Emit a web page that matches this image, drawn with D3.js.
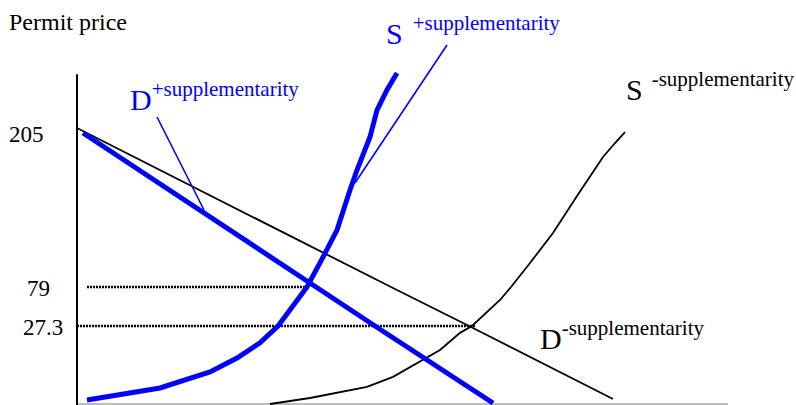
<!DOCTYPE html>
<html>
<head>
<meta charset="utf-8">
<script src="https://cdnjs.cloudflare.com/ajax/libs/d3/7.8.5/d3.min.js"></script>
<style>
	body { margin: 0; background: #fff; }
	svg { display: block; }
	text { font-family: "Liberation Serif", "Times New Roman", serif; }
</style>
</head>
<body>
<svg width="796" height="405"></svg>
<script>
// price labels shown on the axis (schematic, not evenly spaced)
var priceTicks = [205, 79, 27.3];

// curves: [quantity, price]
var demandPlus = [[6, 205], [239, 79], [298, 27.3], [416, 0.35]];
var demandMinus = [[0, 209.1], [314, 79], [392, 27.3], [536, 1.75]];
var supplyPlus = [[10, 1.4], [83, 5.6], [133, 11.2], [160, 16.1], [183, 21.4], [201, 27.3],
	[230, 79], [246, 103.5], [260, 125.6], [273, 158.4], [280, 174.7], [293, 201.7],
	[300, 223.8], [310, 240.2], [320, 254.1]];
var supplyMinus = [[193, 0], [233, 2.1], [290, 6.0], [316, 9.5], [363, 18.9], [383, 24.9],
	[395, 27.3], [423, 61.8], [434, 79], [453, 98.6], [476, 123.2], [500, 153.5],
	[526, 185.4], [538, 196.8], [548, 205.8]];

// equilibrium guides: price and how far they run
var guidePrices = [79, 27.3];
var guideFrom = [10, 0];
var guideTo = [228, 398];

// labels: [quantity, price] anchor of the big letter
var labelLetters = ['D', 'S', 'S', 'D'];
var labelSups = ['+supplementarity', '+supplementarity', '-supplementarity', '-supplementarity'];
var labelAnchors = [[53, 223.8], [309, 277.8], [549, 232], [463, 19.25]];

// leader lines from label to curve
var leaders = [
	[[80, 218.1], [127, 142]],
	[[370, 277], [278, 164.1]]
];

var svg = d3.select('svg'),
	width = +svg.attr('width'),
	height = +svg.attr('height');

var x = d3.scaleLinear()
	.domain([0, 651])
	.range([77, 728]);

// piecewise scale, the diagram is not drawn to scale
var y = d3.scaleLinear()
	.domain([0, 27.3, 79, 205])
	.range([404, 326, 287, 133]);

var line = d3.line()
	.x(function(d) { return x(d[0]); })
	.y(function(d) { return y(d[1]); });

// axes
svg.append('line')
	.attr('x1', x(0)).attr('x2', x(651))
	.attr('y1', y(0)).attr('y2', y(0))
	.attr('stroke', '#bdbdbd')
	.attr('stroke-width', 2);

svg.append('line')
	.attr('x1', x(0)).attr('x2', x(0))
	.attr('y1', y(0) + 1).attr('y2', y(253))
	.attr('stroke', '#000')
	.attr('stroke-width', 2);

svg.append('text')
	.attr('x', 9)
	.attr('y', 30)
	.attr('font-size', 24)
	.text('Permit price');

var tickX = [9, 27, 23];
svg.selectAll('.tick')
	.data(priceTicks)
	.enter()
	.append('text')
	.attr('class', 'tick')
	.attr('x', function(d, i) { return tickX[i]; })
	.attr('y', function(d) { return y(d) + 9; })
	.attr('font-size', 23)
	.text(function(d) { return d; });

// dotted guides
svg.selectAll('.guide')
	.data(guidePrices)
	.enter()
	.append('line')
	.attr('class', 'guide')
	.attr('x1', function(d, i) { return x(guideFrom[i]); })
	.attr('x2', function(d, i) { return x(guideTo[i]); })
	.attr('y1', function(d) { return y(d); })
	.attr('y2', function(d) { return y(d); })
	.attr('stroke', '#000')
	.attr('stroke-width', 2.5)
	.attr('stroke-dasharray', '2,1');

// black (-supplementarity) curves
[demandMinus, supplyMinus].forEach(function(pts) {
	svg.append('path')
		.attr('d', line(pts))
		.attr('fill', 'none')
		.attr('stroke', '#000')
		.attr('stroke-width', 1.8);
});

// blue (+supplementarity) curves
[demandPlus, supplyPlus].forEach(function(pts) {
	svg.append('path')
		.attr('d', line(pts))
		.attr('fill', 'none')
		.attr('stroke', '#0000ff')
		.attr('stroke-width', 5);
});

leaders.forEach(function(pts) {
	svg.append('path')
		.attr('d', line(pts))
		.attr('fill', 'none')
		.attr('stroke', '#0000ff')
		.attr('stroke-width', 1.6);
});

// curve labels
var supDx = [0, 10, 9, 0];
labelLetters.forEach(function(letter, i) {
	var color = labelSups[i][0] === '+' ? '#0000ff' : '#000';
	var t = svg.append('text')
		.attr('x', x(labelAnchors[i][0]))
		.attr('y', y(labelAnchors[i][1]))
		.attr('fill', color)
		.attr('font-size', 30)
		.text(letter);
	t.append('tspan')
		.attr('dx', supDx[i])
		.attr('dy', -14)
		.attr('font-size', 21)
		.text(labelSups[i]);
});
</script>
</body>
</html>
